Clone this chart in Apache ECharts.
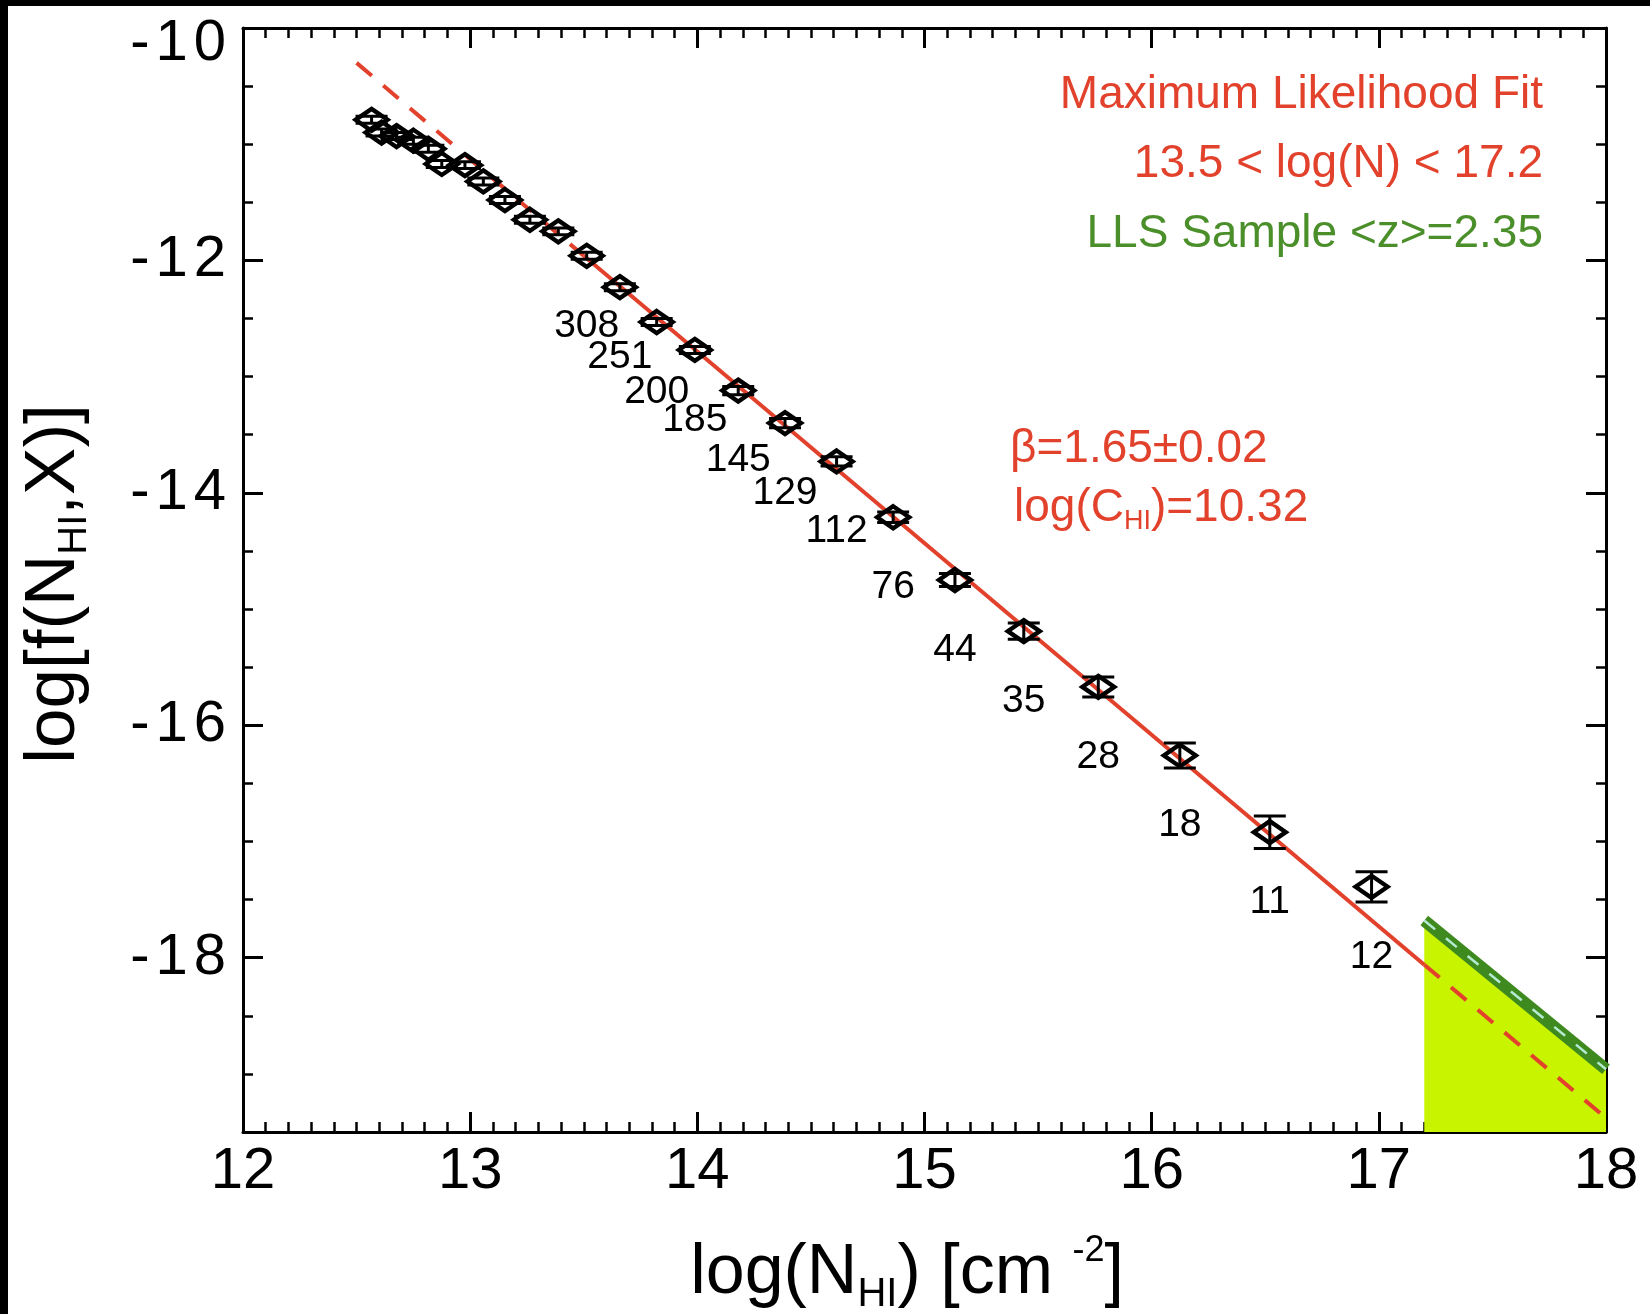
<!DOCTYPE html>
<html>
<head>
<meta charset="utf-8">
<script src="https://cdn.jsdelivr.net/npm/echarts@6/dist/echarts.min.js"></script>
<style>
html,body{margin:0;padding:0;background:#fff;}
#c{width:1650px;height:1314px;}
</style>
</head>
<body>
<div id="c"></div>
<script>
// ---- data ----
const logN = [12.566, 12.610, 12.676, 12.750, 12.816, 12.875, 12.977, 13.058, 13.153, 13.263, 13.388,
              13.513, 13.659, 13.821, 13.989, 14.180, 14.386, 14.613, 14.862, 15.134, 15.437, 15.765, 16.124, 16.520, 16.968];
const logF = [-10.79, -10.90, -10.93, -10.97, -11.04, -11.17, -11.18, -11.32, -11.48, -11.65, -11.75,
              -11.96, -12.23, -12.53, -12.77, -13.12, -13.40, -13.73, -14.21, -14.75, -15.19, -15.67, -16.26, -16.92, -17.39];
const logFErr = [0.03, 0.03, 0.03, 0.03, 0.03, 0.03, 0.03, 0.03, 0.03, 0.03, 0.03,
                 0.03, 0.03, 0.03, 0.03, 0.035, 0.04, 0.04, 0.045, 0.057, 0.07, 0.086, 0.107, 0.14, 0.13];
const counts = [null, null, null, null, null, null, null, null, null, null, null,
                308, 251, 200, 185, 145, 129, 112, 76, 44, 35, 28, 18, 11, 12];
const fitX = [12.5, 13.5, 17.2, 18.0];
const fitY = [-10.30, -11.96, -18.06, -19.38];
const llsX = [17.2, 18.0];
const llsY = [-17.68, -18.96];
const xTickValues = [12, 13, 14, 15, 16, 17, 18];
const yTickValues = [-18, -16, -14, -12, -10];
const yMinorValues = [-19.5, -19, -18.5, -18, -17.5, -17, -16.5, -16, -15.5, -15, -14.5, -14, -13.5, -13, -12.5, -12, -11.5, -11, -10.5, -10];
const xRange = [12, 18];
const yRange = [-19.5, -10];

const FONT = '"Liberation Sans", Arial, Helvetica, sans-serif';
const RED = '#e2412c';
const GREEN_TXT = '#4b8f2b';
const BAND = '#3f8a1f';
const BAND_DASH = '#b4ead2';
const YELLOW = '#c9f400';

const chart = echarts.init(document.getElementById('c'), null, {renderer: 'canvas'});

// y tick labels: wide letter spacing; the top label sits a little lower (as in the reference)
function spaced(v) {
  const s = String(v);
  const low = (v === yRange[1]);
  let out = '';
  for (let i = 0; i < s.length; i++) {
    const last = i === s.length - 1;
    out += '{' + (low ? 't' : '') + (last ? 'e' : 'c') + '|' + s[i] + '}';
  }
  return out;
}

function xAxisCfg(pos, labels) {
  return {
    type: 'value', min: xRange[0], max: xRange[1], interval: 1, position: pos,
    axisLine: {show: true, onZero: false, lineStyle: {color: '#000', width: 3}},
    axisTick: {show: true, inside: true, length: 20, lineStyle: {color: '#000', width: 3}},
    minorTick: {show: true, splitNumber: 10, length: 10, lineStyle: {color: '#000', width: 2.5}},
    axisLabel: {show: labels, fontSize: 58, color: '#000', fontFamily: FONT, margin: 11},
    splitLine: {show: false}, minorSplitLine: {show: false}
  };
}
function yAxisCfg(pos, major, labels, line) {
  const base = {fontSize: 58, fontFamily: FONT, color: '#000'};
  return {
    type: 'value', min: yRange[0], max: yRange[1], position: pos, offset: 0,
    axisLine: {show: line, onZero: false, lineStyle: {color: '#000', width: 3}},
    axisTick: {show: true, inside: true, length: major ? 20 : 10,
               customValues: major ? yTickValues : yMinorValues,
               lineStyle: {color: '#000', width: major ? 3 : 2.5}},
    axisLabel: {show: labels, customValues: yTickValues, color: '#000', margin: 17,
                formatter: spaced,
                rich: {c: Object.assign({}, base, {padding: [0, 6, 0, 0]}),
                       e: Object.assign({}, base),
                       tc: Object.assign({}, base, {padding: [32, 6, 0, 0]}),
                       te: Object.assign({}, base, {padding: [32, 0, 0, 0]})}},
    splitLine: {show: false}
  };
}

const option = {
  animation: false,
  backgroundColor: '#fff',
  grid: {left: 243, right: 44, top: 28, bottom: 182, containLabel: false},
  xAxis: [xAxisCfg('bottom', true), xAxisCfg('top', false)],
  yAxis: [yAxisCfg('left', true, true, true), yAxisCfg('left', false, false, false),
          yAxisCfg('right', true, false, true), yAxisCfg('right', false, false, false)],
  series: [
    {
      type: 'custom', z: 1, silent: true,
      data: [[llsX[0], llsY[0], llsX[1], llsY[1]]],
      renderItem: function (params, api) {
        const p0 = api.coord([api.value(0), yRange[0]]);
        const p1 = api.coord([api.value(0), api.value(1)]);
        const p2 = api.coord([api.value(2), api.value(3)]);
        const p3 = api.coord([api.value(2), yRange[0]]);
        return {type: 'polygon', shape: {points: [p0, p1, p2, p3]}, style: {fill: YELLOW, stroke: null}};
      }
    },
    {type: 'line', z: 3, symbol: 'none', silent: true,
     data: [[fitX[0], fitY[0]], [fitX[1], fitY[1]]],
     lineStyle: {color: RED, width: 4, type: [20, 15]}},
    {type: 'line', z: 3, symbol: 'none', silent: true,
     data: [[fitX[1], fitY[1]], [fitX[2], fitY[2]]],
     lineStyle: {color: RED, width: 4}},
    {type: 'line', z: 3, symbol: 'none', silent: true,
     data: [[fitX[2], fitY[2]], [fitX[3], fitY[3]]],
     lineStyle: {color: RED, width: 4, type: [20, 15]}},
    {type: 'line', z: 4, symbol: 'none', silent: true,
     data: [[llsX[0], llsY[0]], [llsX[1], llsY[1]]],
     lineStyle: {color: BAND, width: 12, cap: 'butt'}},
    {type: 'line', z: 4, symbol: 'none', silent: true,
     data: [[llsX[0], llsY[0]], [llsX[1], llsY[1]]],
     lineStyle: {color: BAND_DASH, width: 2.5, type: [14, 14]}},
    {
      type: 'custom', z: 5, silent: true,
      data: logN.map((x, i) => [x, logF[i], logFErr[i]]),
      renderItem: function (params, api) {
        const x = api.value(0), y = api.value(1), e = api.value(2);
        const t = api.coord([x, y + e]);
        const b = api.coord([x, y - e]);
        const hw = 16;
        const st = {stroke: '#000', lineWidth: 3};
        return {type: 'group', children: [
          {type: 'line', shape: {x1: t[0], y1: t[1], x2: b[0], y2: b[1]}, style: st},
          {type: 'line', shape: {x1: t[0] - hw, y1: t[1], x2: t[0] + hw, y2: t[1]}, style: st},
          {type: 'line', shape: {x1: b[0] - hw, y1: b[1], x2: b[0] + hw, y2: b[1]}, style: st}
        ]};
      }
    },
    {
      type: 'scatter', z: 6, silent: true,
      symbol: 'diamond', symbolSize: [32, 22],
      itemStyle: {color: 'rgba(0,0,0,0)', borderColor: '#000', borderWidth: 4.5, opacity: 1},
      label: {show: false, position: 'inside', offset: [0, 70], fontSize: 39, color: '#000', fontFamily: FONT, opacity: 1},
      data: logN.map((x, i) => ({
        value: [x, logF[i]],
        label: counts[i] ? {show: true, formatter: String(counts[i])} : {show: false}
      }))
    }
  ],
  graphic: [
    {type: 'rect', z: 100, shape: {x: 0, y: 0, width: 1650, height: 6}, style: {fill: '#000'}},
    {type: 'rect', z: 100, shape: {x: 0, y: 0, width: 8, height: 1314}, style: {fill: '#000'}},
    {type: 'text', z: 100, x: 1543, y: 95,
     style: {text: 'Maximum Likelihood Fit', fill: RED, font: '46px ' + FONT, align: 'right', verticalAlign: 'middle'}},
    {type: 'text', z: 100, x: 1543, y: 164,
     style: {text: '13.5 < log(N) < 17.2', fill: RED, font: '46px ' + FONT, align: 'right', verticalAlign: 'middle'}},
    {type: 'text', z: 100, x: 1543, y: 234,
     style: {text: 'LLS Sample <z>=2.35', fill: GREEN_TXT, font: '46px ' + FONT, align: 'right', verticalAlign: 'middle'}},
    {type: 'text', z: 100, x: 1010, y: 449,
     style: {text: 'β=1.65±0.02', fill: RED, font: '46px ' + FONT, align: 'left', verticalAlign: 'middle'}},
    {type: 'text', z: 100, x: 1014, y: 508,
     style: {text: '{a|log(C}{s|HI}{a|)=10.32}', align: 'left', verticalAlign: 'middle',
             rich: {a: {fontSize: 46, fontFamily: FONT, fill: RED, lineHeight: 54},
                    s: {fontSize: 27, fontFamily: FONT, fill: RED, lineHeight: 30, verticalAlign: 'bottom'}}}},
    {type: 'text', z: 100, x: 907, y: 1274,
     style: {text: '{a|log(N}{s|HI}{a|) [cm }{p|-2}{a|]}', align: 'center', verticalAlign: 'middle',
             rich: {a: {fontSize: 70, fontFamily: FONT, fill: '#000', lineHeight: 82},
                    s: {fontSize: 40, fontFamily: FONT, fill: '#000', lineHeight: 46, verticalAlign: 'bottom'},
                    p: {fontSize: 36, fontFamily: FONT, fill: '#000', lineHeight: 48, verticalAlign: 'top'}}}},
    {type: 'text', z: 100, x: 54, y: 584, rotation: Math.PI / 2,
     style: {text: '{a|log[f(N}{s|HI}{a|,X)]}', align: 'center', verticalAlign: 'middle',
             rich: {a: {fontSize: 71, fontFamily: FONT, fill: '#000', lineHeight: 82},
                    s: {fontSize: 40, fontFamily: FONT, fill: '#000', lineHeight: 46, verticalAlign: 'bottom'}}}}
  ]
};
chart.setOption(option);
</script>
</body>
</html>
